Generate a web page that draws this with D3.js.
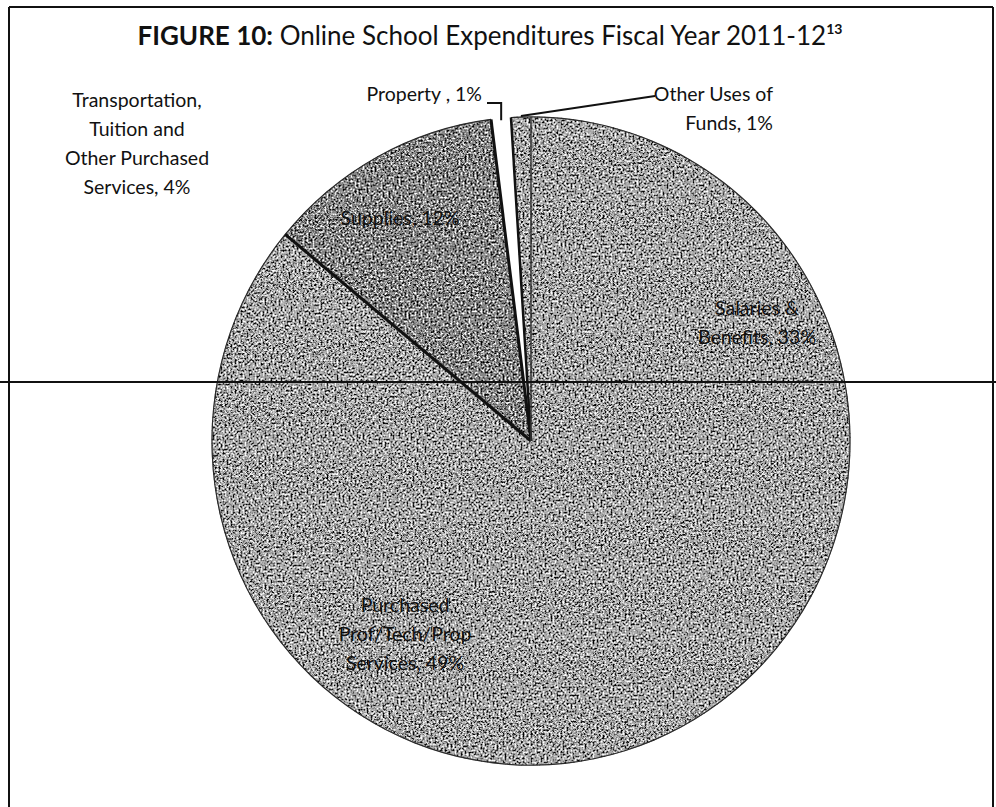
<!DOCTYPE html>
<html>
<head>
<meta charset="utf-8">
<script src="https://cdn.jsdelivr.net/npm/d3@7"></script>
<style>
  html, body { margin: 0; padding: 0; background: #fff; }
  svg { display: block; }
  text { font-family: Lato, "Open Sans", sans-serif; fill: #111; }
</style>
</head>
<body>
<svg id="chart" width="996" height="807"></svg>
<script>
// ---- data ----
const categories = [
  "Salaries & Benefits",
  "Purchased Prof/Tech/Prop Services",
  "Transportation, Tuition and Other Purchased Services",
  "Supplies",
  "Property",
  "Other Uses of Funds"
];
const values = [33, 49, 4, 12, 1, 1];
const labelLines = [
  ["Salaries &", "Benefits, 33%"],
  ["Purchased", "Prof/Tech/Prop", "Services, 49%"],
  ["Transportation,", "Tuition and", "Other Purchased", "Services, 4%"],
  ["Supplies, 12%"],
  ["Property , 1%"],
  ["Other Uses of", "Funds, 1%"]
];
const titleBold = "FIGURE 10:";
const titleRest = " Online School Expenditures Fiscal Year 2011-12";
const titleNote = "13";

// ---- layout ----
const W = 996, H = 807;
const cx = 531, cy = 441, R = 319, yStretch = 1.016;
const fills = ["#a8a8a8", "#a8a8a8", "#a8a8a8", "#858585", "none", "#a8a8a8"];

const svg = d3.select("#chart");

// grain texture to mimic the scanned halftone
const defs = svg.append("defs");
const f = defs.append("filter").attr("id", "grain")
  .attr("x", "-2%").attr("y", "-2%").attr("width", "104%").attr("height", "104%")
  .attr("color-interpolation-filters", "sRGB");
f.append("feTurbulence").attr("type", "fractalNoise").attr("baseFrequency", 0.5)
  .attr("numOctaves", 2).attr("seed", 4).attr("result", "noise");
f.append("feColorMatrix").attr("in", "noise").attr("type", "matrix")
  .attr("values", "0 0 0 0 0  0 0 0 0 0  0 0 0 0 0  -4.5 0 0 0 2.2").attr("result", "dark");
f.append("feColorMatrix").attr("in", "noise").attr("type", "matrix")
  .attr("values", "0 0 0 0 1  0 0 0 0 1  0 0 0 0 1  4.5 0 0 0 -2.3").attr("result", "light");
f.append("feComposite").attr("in", "dark").attr("in2", "SourceGraphic").attr("operator", "in").attr("result", "d2");
f.append("feComposite").attr("in", "light").attr("in2", "SourceGraphic").attr("operator", "in").attr("result", "l2");
const m = f.append("feMerge");
m.append("feMergeNode").attr("in", "SourceGraphic");
m.append("feMergeNode").attr("in", "d2");
m.append("feMergeNode").attr("in", "l2");

// frame
svg.append("line").attr("x1", 9).attr("x2", 993).attr("y1", 7).attr("y2", 7)
  .attr("stroke", "#111").attr("stroke-width", 2);
svg.append("line").attr("x1", 9).attr("x2", 9).attr("y1", 7).attr("y2", H)
  .attr("stroke", "#111").attr("stroke-width", 2);
svg.append("line").attr("x1", 993).attr("x2", 993).attr("y1", 7).attr("y2", H)
  .attr("stroke", "#111").attr("stroke-width", 2);

// title
const title = svg.append("text").attr("x", 490).attr("y", 45)
  .attr("text-anchor", "middle").style("font-size", "26px");
title.append("tspan").style("font-weight", "bold").text(titleBold);
title.append("tspan").text(titleRest);
title.append("tspan").attr("dy", -11).style("font-size", "14px").style("font-weight", "bold").text(titleNote);

// pie
const pie = d3.pie().sort(null).value(d => d).startAngle(0).endAngle(2 * Math.PI);
const arcs = pie(values);
const arc = d3.arc().innerRadius(0).outerRadius(R);

const g = svg.append("g").attr("transform", `translate(${cx},${cy}) scale(1,${yStretch})`);
const gp = g.append("g").attr("filter", "url(#grain)");

gp.selectAll("path.slice").data(arcs).enter().append("path")
  .attr("class", "slice")
  .attr("d", arc)
  .attr("fill", (d, i) => fills[i])
  .attr("stroke", (d, i) => fills[i])
  .attr("stroke-width", 0.8);

// outer rim (not on property slice)
const rim = d3.arc().innerRadius(R - 0.6).outerRadius(R + 0.6);
g.selectAll("path.rim").data(arcs.filter((d, i) => i !== 4)).enter().append("path")
  .attr("class", "rim").attr("d", rim).attr("fill", "#2a2a2a");

// radial edges
function radial(angle, w, col) {
  g.append("line")
    .attr("x1", 0).attr("y1", 0)
    .attr("x2", R * Math.sin(angle)).attr("y2", -R * Math.cos(angle))
    .attr("stroke", col).attr("stroke-width", w);
}
radial(arcs[3].startAngle, 3, "#111");   // Transportation | Supplies
radial(arcs[3].endAngle, 3, "#111");     // Supplies | Property
radial(arcs[5].startAngle, 2.5, "#111"); // Property | Other
radial(arcs[0].startAngle, 1.5, "#333"); // Other | Salaries

// scan line across
svg.append("line").attr("x1", 0).attr("x2", W).attr("y1", 382).attr("y2", 382)
  .attr("stroke", "#111").attr("stroke-width", 2);

// labels
const fs = 19.5, lh = 29;
function label(i, x, y, anchor) {
  const t = svg.append("text").attr("x", x).attr("y", y)
    .attr("text-anchor", anchor || "middle").style("font-size", fs + "px");
  labelLines[i].forEach((s, k) => {
    t.append("tspan").attr("x", x).attr("dy", k === 0 ? 0 : lh).text(s);
  });
}
label(0, 757, 315);
label(1, 405, 612);
label(2, 137, 107);
label(3, 400, 225);
label(4, 482, 101, "end");
label(5, 773, 101, "end");

// leader lines
const pAng = (arcs[4].startAngle + arcs[4].endAngle) / 2;
const oAng = (arcs[5].startAngle + arcs[5].endAngle) / 2;
const px = cx + (R - 2) * Math.sin(pAng), py = cy - (R - 2) * Math.cos(pAng) * yStretch;
const ox = cx + (R + 1) * Math.sin(oAng), oy = cy - (R + 1) * Math.cos(oAng) * yStretch;
svg.append("path").attr("d", `M${487},${103} L${px},${103} L${px},${py}`)
  .attr("fill", "none").attr("stroke", "#111").attr("stroke-width", 2);
svg.append("path").attr("d", `M${ox},${oy} L${655},${96}`)
  .attr("fill", "none").attr("stroke", "#111").attr("stroke-width", 2);
</script>
</body>
</html>
